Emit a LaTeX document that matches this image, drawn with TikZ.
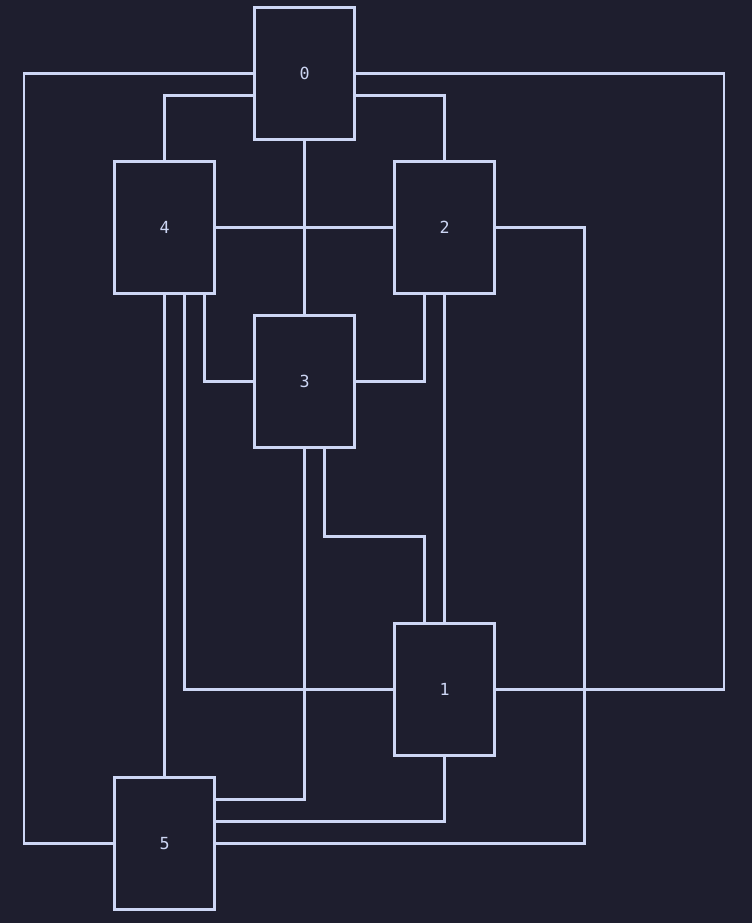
\documentclass[tikz,border=0pt]{standalone}
\usepackage{fontspec}
\setmonofont{DejaVu Sans Mono}
\usetikzlibrary{calc}
\definecolor{bgc}{HTML}{1E1E2E}
\definecolor{fgc}{HTML}{CDD6F4}
\begin{document}
\begin{tikzpicture}[x=0.75pt,y=-0.75pt,
  box/.style={draw=fgc,line width=2.05pt,rectangle,minimum width=75pt,minimum height=98.5pt,inner sep=0pt,outer sep=0pt,text=fgc,font=\ttfamily\fontsize{12.5pt}{14pt}\selectfont},
  conn/.style={draw=fgc,line width=2.05pt}]
\fill[bgc] (0,0) rectangle (752,923);
\useasboundingbox (0,0) rectangle (752,923);
\node[box] (n0) at (304.7,73.5) {0};
\node[box] (n4) at (164.7,227.5) {4};
\node[box] (n2) at (444.7,227.5) {2};
\node[box] (n3) at (304.7,381.5) {3};
\node[box] (n1) at (444.7,689.5) {1};
\node[box] (n5) at (164.7,843.5) {5};
\draw[conn] (n0.west) -| ($(n5.west)+(-90.7,0)$) -- (n5.west);
\draw[conn] (n0.east) -| ($(n1.east)+(229.3,0)$) -- (n1.east);
\draw[conn] ($(n0.west)+(0,22)$) -| (n4.north);
\draw[conn] ($(n0.east)+(0,22)$) -| (n2.north);
\draw[conn] (n0.south) -- (n3.north);
\draw[conn] (n4.east) -- (n2.west);
\draw[conn] (n2.east) -| ($(n5.east)+(369.8,0)$) -- (n5.east);
\draw[conn] ($(n4.south)+(40,0)$) |- (n3.west);
\draw[conn] ($(n2.south)+(-20,0)$) |- (n3.east);
\draw[conn] (n4.south) -- (n5.north);
\draw[conn] ($(n4.south)+(20,0)$) |- (n1.west);
\draw[conn] (n2.south) -- (n1.north);
\draw[conn] ($(n3.south)+(20,0)$) |- ($(n1.north)+(-20,-87.5)$) -- ($(n1.north)+(-20,0)$);
\draw[conn] (n3.south) |- ($(n5.east)+(0,-44)$);
\draw[conn] (n1.south) |- ($(n5.east)+(0,-22)$);
\end{tikzpicture}
\end{document}
